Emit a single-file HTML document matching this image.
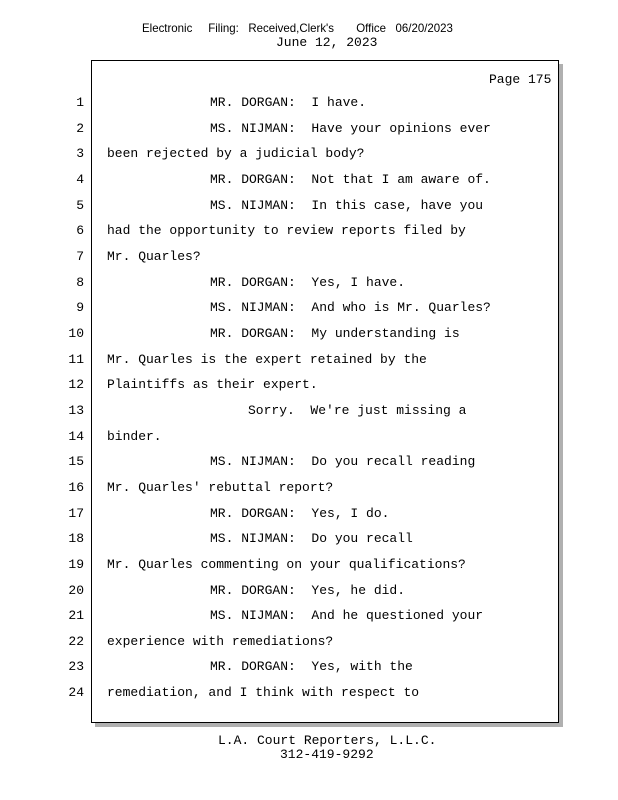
<!DOCTYPE html>
<html><head><meta charset="utf-8"><style>
body{margin:0;width:618px;height:800px;background:#fff;position:relative;overflow:hidden;font-family:"Liberation Mono",monospace;font-size:13px;color:#000}
.a{position:absolute;white-space:pre;line-height:16px}
.n{position:absolute;width:30px;left:54px;text-align:right;line-height:16px}
.box{position:absolute;left:91px;top:60px;width:466px;height:661px;border:1px solid #000;background:#fff;box-shadow:4px 4px 0 #b0b0b0}
.hdr{position:absolute;top:21px;left:142px;font-family:"Liberation Sans",sans-serif;font-size:12px;transform:scaleX(0.955);transform-origin:left;white-space:pre;color:#000}
</style></head><body>
<div class="hdr">Electronic     Filing:   Received,Clerk's       Office   06/20/2023</div>
<div class="a" style="left:276px;top:35px">June 12, 2023</div>
<div class="box"></div>
<div class="a" style="left:489px;top:72px">Page 175</div>
<div class="n" style="top:95px">1</div><div class="a" style="left:210px;top:95px">MR. DORGAN:  I have.</div>
<div class="n" style="top:121px">2</div><div class="a" style="left:210px;top:121px">MS. NIJMAN:  Have your opinions ever</div>
<div class="n" style="top:146px">3</div><div class="a" style="left:107px;top:146px">been rejected by a judicial body?</div>
<div class="n" style="top:172px">4</div><div class="a" style="left:210px;top:172px">MR. DORGAN:  Not that I am aware of.</div>
<div class="n" style="top:198px">5</div><div class="a" style="left:210px;top:198px">MS. NIJMAN:  In this case, have you</div>
<div class="n" style="top:223px">6</div><div class="a" style="left:107px;top:223px">had the opportunity to review reports filed by</div>
<div class="n" style="top:249px">7</div><div class="a" style="left:107px;top:249px">Mr. Quarles?</div>
<div class="n" style="top:275px">8</div><div class="a" style="left:210px;top:275px">MR. DORGAN:  Yes, I have.</div>
<div class="n" style="top:300px">9</div><div class="a" style="left:210px;top:300px">MS. NIJMAN:  And who is Mr. Quarles?</div>
<div class="n" style="top:326px">10</div><div class="a" style="left:210px;top:326px">MR. DORGAN:  My understanding is</div>
<div class="n" style="top:352px">11</div><div class="a" style="left:107px;top:352px">Mr. Quarles is the expert retained by the</div>
<div class="n" style="top:377px">12</div><div class="a" style="left:107px;top:377px">Plaintiffs as their expert.</div>
<div class="n" style="top:403px">13</div><div class="a" style="left:248px;top:403px">Sorry.  We're just missing a</div>
<div class="n" style="top:429px">14</div><div class="a" style="left:107px;top:429px">binder.</div>
<div class="n" style="top:454px">15</div><div class="a" style="left:210px;top:454px">MS. NIJMAN:  Do you recall reading</div>
<div class="n" style="top:480px">16</div><div class="a" style="left:107px;top:480px">Mr. Quarles' rebuttal report?</div>
<div class="n" style="top:506px">17</div><div class="a" style="left:210px;top:506px">MR. DORGAN:  Yes, I do.</div>
<div class="n" style="top:531px">18</div><div class="a" style="left:210px;top:531px">MS. NIJMAN:  Do you recall</div>
<div class="n" style="top:557px">19</div><div class="a" style="left:107px;top:557px">Mr. Quarles commenting on your qualifications?</div>
<div class="n" style="top:583px">20</div><div class="a" style="left:210px;top:583px">MR. DORGAN:  Yes, he did.</div>
<div class="n" style="top:608px">21</div><div class="a" style="left:210px;top:608px">MS. NIJMAN:  And he questioned your</div>
<div class="n" style="top:634px">22</div><div class="a" style="left:107px;top:634px">experience with remediations?</div>
<div class="n" style="top:659px">23</div><div class="a" style="left:210px;top:659px">MR. DORGAN:  Yes, with the</div>
<div class="n" style="top:685px">24</div><div class="a" style="left:107px;top:685px">remediation, and I think with respect to</div>
<div class="a" style="left:218px;top:733px">L.A. Court Reporters, L.L.C.</div>
<div class="a" style="left:280px;top:747px">312-419-9292</div>
</body></html>
